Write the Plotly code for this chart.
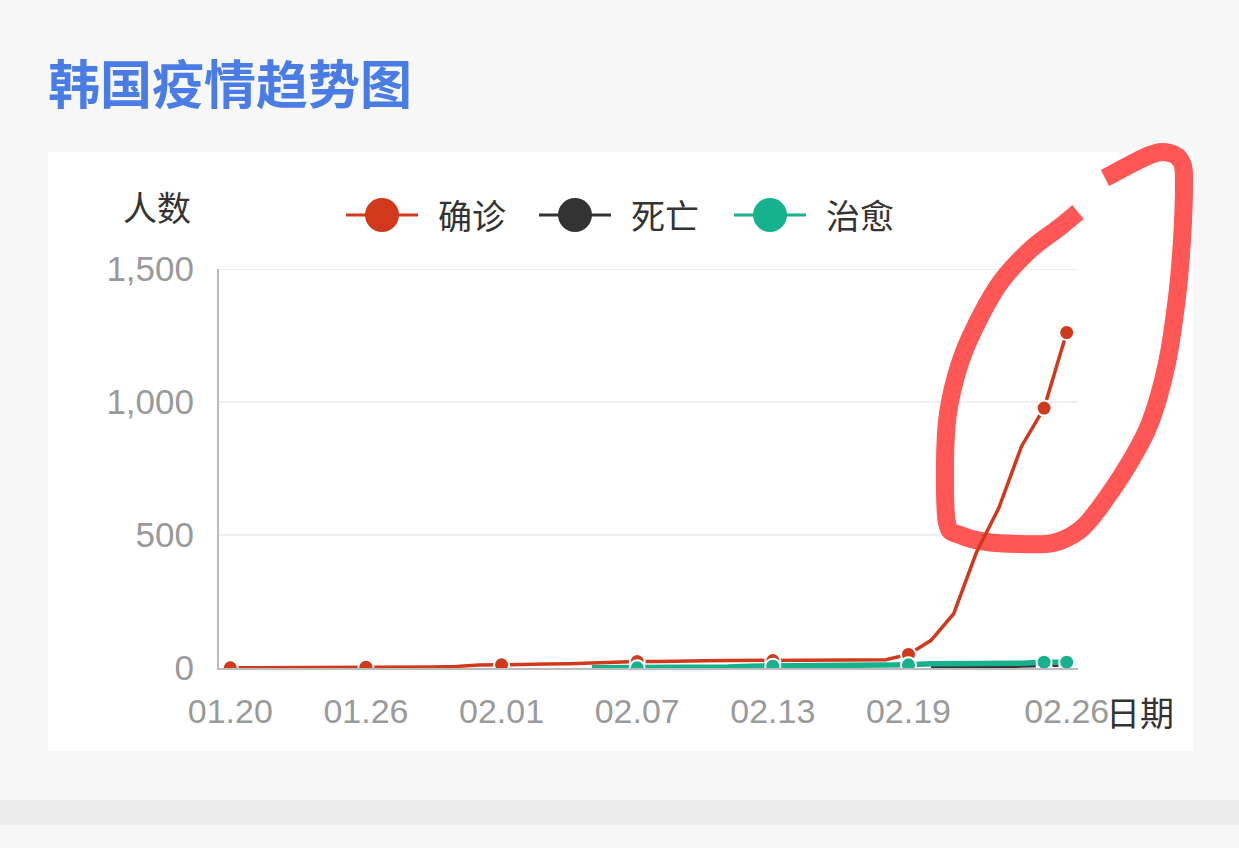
import plotly.graph_objects as go

# 韩国疫情趋势
dates = ["01.20", "01.21", "01.22", "01.23", "01.24", "01.25", "01.26", "01.27",
         "01.28", "01.29", "01.30", "01.31", "02.01", "02.02", "02.03", "02.04",
         "02.05", "02.06", "02.07", "02.08", "02.09", "02.10", "02.11", "02.12",
         "02.13", "02.14", "02.15", "02.16", "02.17", "02.18", "02.19", "02.20",
         "02.21", "02.22", "02.23", "02.24", "02.25", "02.26"]
confirmed = [1, 1, 1, 1, 2, 2, 3, 4, 4, 4, 6, 11, 12, 15, 15, 16, 19, 23, 24, 24,
             27, 27, 28, 28, 28, 28, 28, 29, 30, 31, 51, 104, 204, 433, 602, 833,
             977, 1261]

death_dates = ["02.20", "02.21", "02.22", "02.23", "02.24", "02.25", "02.26"]
deaths = [1, 2, 2, 6, 8, 11, 12]

cured_dates = ["02.05", "02.06", "02.07", "02.08", "02.09", "02.10", "02.11",
               "02.12", "02.13", "02.14", "02.15", "02.16", "02.17", "02.18",
               "02.19", "02.20", "02.21", "02.22", "02.23", "02.24", "02.25",
               "02.26"]
cured = [1, 1, 1, 1, 3, 3, 4, 7, 7, 7, 9, 9, 10, 12, 12, 16, 16, 16, 18, 18, 22, 22]

tick_dates = ["01.20", "01.26", "02.01", "02.07", "02.13", "02.19", "02.26"]
symbol_dates = ["01.20", "01.26", "02.01", "02.07", "02.13", "02.19", "02.25", "02.26"]
y_ticks = [0, 500, 1000, 1500]

series_names = ["确诊", "死亡", "治愈"]
series_colors = ["#d0391b", "#333333", "#17b28d"]

# 画布像素 -> paper 坐标
W, H = 1239, 848
L, R, T, B = 219, 1078, 269, 668


def px(x):
    return (x - L) / (R - L)


def py(y):
    return (B - y) / (B - T)


def smooth_path(pts):
    # catmull-rom -> 三次贝塞尔, 手绘圈
    p = [(px(a), py(b)) for a, b in pts]
    s = "M %.4f,%.4f" % p[0]
    for i in range(len(p) - 1):
        p0 = p[i - 1] if i > 0 else p[i]
        p1, p2 = p[i], p[i + 1]
        p3 = p[i + 2] if i + 2 < len(p) else p2
        c1 = (p1[0] + (p2[0] - p0[0]) / 6, p1[1] + (p2[1] - p0[1]) / 6)
        c2 = (p2[0] - (p3[0] - p1[0]) / 6, p2[1] - (p3[1] - p1[1]) / 6)
        s += " C %.4f,%.4f %.4f,%.4f %.4f,%.4f" % (c1 + c2 + p2)
    return s


def sizes(xs):
    return [15 if d in symbol_dates else 0 for d in xs]


fig = go.Figure()
for name, xs, ys, col, lw in [
    (series_names[0], dates, confirmed, series_colors[0], 3.5),
    (series_names[1], death_dates, deaths, series_colors[1], 4),
    (series_names[2], cured_dates, cured, series_colors[2], 5.5),
]:
    s = sizes(xs)
    fig.add_trace(go.Scatter(
        x=xs, y=ys, name=name, mode="lines+markers",
        line=dict(color=col, width=lw),
        marker=dict(size=s, color=col, opacity=1,
                    line=dict(color="white", width=[2 if v else 0 for v in s])),
        showlegend=False))

shapes = [
    # 白色卡片
    dict(type="rect", xref="paper", yref="paper", x0=px(48), x1=px(1193),
         y0=py(751), y1=py(152), fillcolor="white", line_width=0, layer="below"),
    # 底部灰条
    dict(type="rect", xref="paper", yref="paper", x0=px(0), x1=px(W),
         y0=py(825), y1=py(800), fillcolor="#ebebeb", line_width=0, layer="below"),
]
# 网格线 (在手绘圈下面)
for v in y_ticks[1:]:
    shapes.append(dict(type="line", xref="paper", yref="y", x0=0, x1=1, y0=v, y1=v,
                       line=dict(color="#efefef", width=2), layer="below"))

hand = [(1105, 178), (1150, 155), (1170, 153), (1182, 163), (1184, 185),
        (1182, 240), (1177, 297), (1167, 363), (1150, 423), (1127, 467),
        (1100, 507), (1080, 530), (1053, 543), (1020, 544), (987, 542),
        (960, 535), (947, 523), (945, 463), (948, 413), (960, 363),
        (977, 323), (1000, 283), (1030, 250), (1060, 227), (1078, 212)]
shapes.append(dict(type="path", xref="paper", yref="paper", path=smooth_path(hand),
                   line=dict(color="#ff5656", width=18), layer="below"))

annotations = [
    dict(text="<b>韩国疫情趋势图</b>", x=px(46), y=py(81), xref="paper", yref="paper",
         xanchor="left", yanchor="middle", showarrow=False,
         font=dict(size=52, color="#4a7ce6", family="Noto Sans CJK SC")),
    dict(text="人数", x=px(157), y=py(207), xref="paper", yref="paper",
         xanchor="center", yanchor="middle", showarrow=False,
         font=dict(size=34, color="#333333", family="Noto Sans CJK SC")),
    dict(text="日期", x=px(1104), y=py(711), xref="paper", yref="paper",
         xanchor="left", yanchor="middle", showarrow=False,
         font=dict(size=34, color="#333333", family="Noto Sans CJK SC")),
]

# 图例 (手动)
legend_x = [382, 575, 770]
for name, col, cx in zip(series_names, series_colors, legend_x):
    shapes.append(dict(type="line", xref="paper", yref="paper",
                       x0=px(cx - 36), x1=px(cx + 36), y0=py(215), y1=py(215),
                       line=dict(color=col, width=3)))
    shapes.append(dict(type="circle", xref="paper", yref="paper",
                       x0=px(cx - 17), x1=px(cx + 17), y0=py(232), y1=py(198),
                       fillcolor=col, line_width=0))
    annotations.append(dict(text=name, x=px(cx + 54), y=py(215), xref="paper",
                            yref="paper", xanchor="left", yanchor="middle",
                            showarrow=False,
                            font=dict(size=34, color="#333333",
                                      family="Noto Sans CJK SC")))

fig.update_layout(
    width=W, height=H,
    margin=dict(l=L, r=W - R, t=T, b=H - B, pad=0),
    paper_bgcolor="#f7f7f7",
    plot_bgcolor="rgba(0,0,0,0)",
    shapes=shapes,
    annotations=annotations,
    showlegend=False,
    xaxis=dict(type="category", categoryorder="array", categoryarray=dates,
               range=[-0.5, len(dates) - 0.5], tickvals=tick_dates,
               ticktext=tick_dates, showgrid=False, zeroline=False,
               showline=True, linecolor="#bbbbbb", linewidth=2,
               ticks="outside", ticklen=12, tickcolor="rgba(0,0,0,0)",
               tickfont=dict(size=34, color="#9a9a9a", family="Liberation Sans")),
    yaxis=dict(range=[0, 1500], tickvals=y_ticks, tickformat=",",
               showgrid=False, zeroline=False,
               showline=True, linecolor="#bbbbbb", linewidth=2,
               ticks="outside", ticklen=16, tickcolor="rgba(0,0,0,0)",
               tickfont=dict(size=35, color="#9a9a9a", family="Liberation Sans")),
)

fig.write_html("out.html", config={"displayModeBar": False},
               post_script="document.body.style.margin='0';")
